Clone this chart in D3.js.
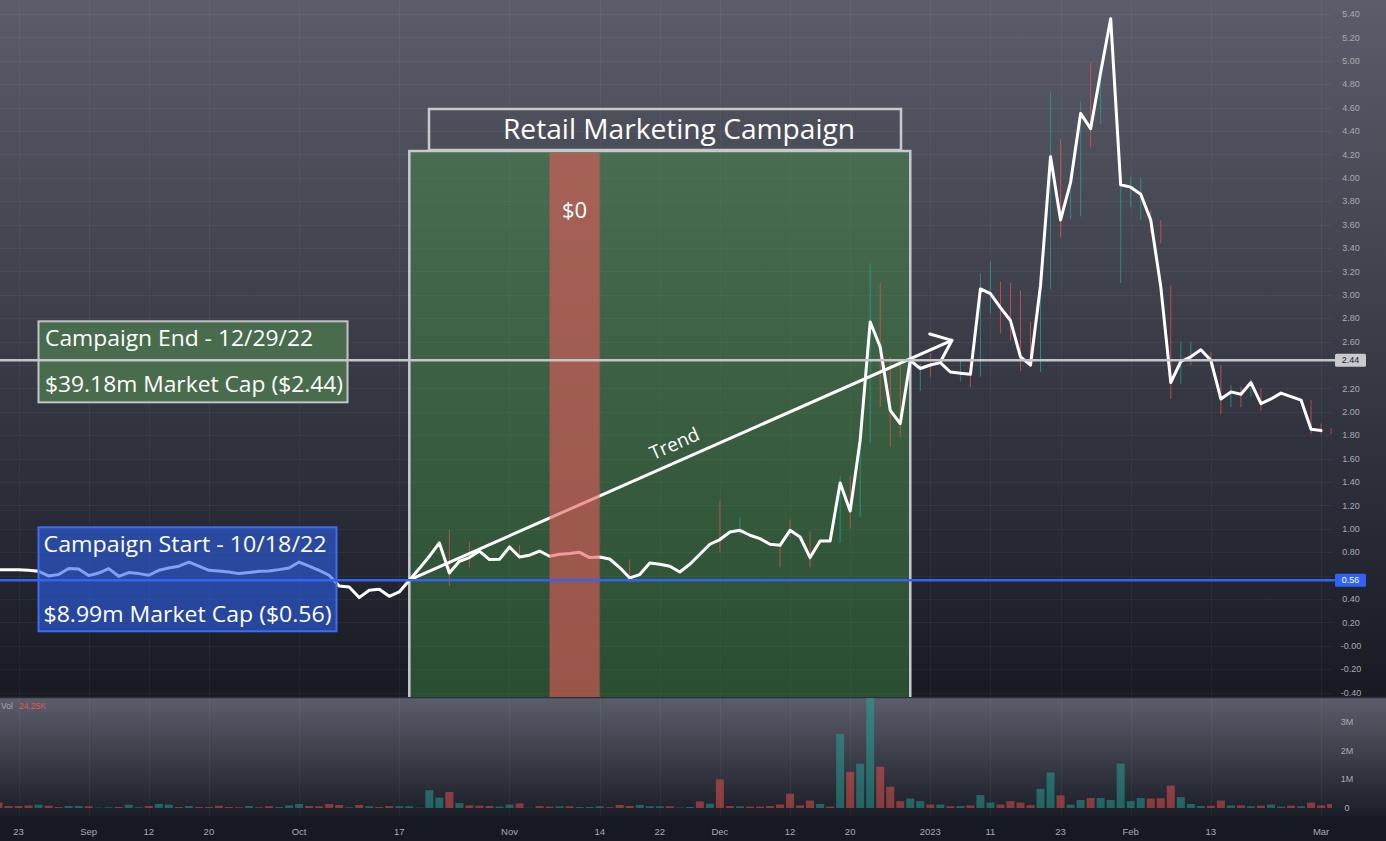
<!DOCTYPE html>
<html><head><meta charset="utf-8">
<script src="https://cdn.jsdelivr.net/npm/d3@7"></script>
<style>html,body{margin:0;padding:0;background:#151821;overflow:hidden}</style>
</head><body>
<svg id="c" width="1386" height="841"></svg>
<script>
// ---------------- DATA ----------------
// daily closes, 2022-08-19 .. 2023-03-01 (trading days)
const closeValues = [
 0.65,
 0.65,0.65,0.645,0.637,0.597,0.609,0.66,0.657,0.60,0.622,
 0.66,0.594,0.626,0.617,0.603,0.645,0.665,0.68,0.716,0.68,
 0.645,0.64,0.631,0.617,0.626,0.637,0.64,0.651,0.665,0.716,
 0.68,0.645,0.603,0.511,0.503,0.412,0.475,0.483,0.423,0.46,
 0.56,0.66,0.765,0.879,0.622,0.722,0.754,0.81,0.737,0.739,
 0.845,0.759,0.774,0.81,0.765,0.782,0.788,0.799,0.754,0.759,
 0.742,0.669,0.58,0.609,0.708,0.697,0.68,0.631,0.697,0.782,
 0.868,0.908,0.973,0.987,0.945,0.916,0.868,0.859,0.987,0.93,
 0.754,0.896,0.896,1.392,1.152,1.757,2.768,2.554,2.013,1.899,
 2.44,2.37,2.40,2.42,2.34,2.33,2.32,3.05,3.01,2.89,
 2.78,2.47,2.40,3.08,4.18,3.64,3.96,4.55,4.42,4.90,
 5.36,3.94,3.92,3.86,3.64,3.07,2.25,2.43,2.47,2.53,
 2.44,2.11,2.17,2.15,2.25,2.07,2.11,2.16,2.13,2.10,
 1.85,1.84
];
// daily volume in millions, 2022-08-19 .. 2023-03-02
const volumeValues = [
 0.19,
 0.07,0.07,0.09,0.115,0.08,0.035,0.07,0.07,0.06,0.015,
 0.025,0.035,0.115,0.025,0.07,0.14,0.115,0.035,0.07,0.035,
 0.035,0.08,0.035,0.025,0.07,0.025,0.06,0.035,0.09,0.14,
 0.07,0.06,0.14,0.105,0.025,0.105,0.06,0.035,0.07,0.06,
 0.06,0.015,0.62,0.36,0.56,0.17,0.09,0.08,0.07,0.05,
 0.12,0.16,0.01,0.07,0.05,0.06,0.06,0.035,0.035,0.06,
 0.025,0.105,0.07,0.105,0.06,0.06,0.06,0.015,0.035,0.23,
 0.15,1.0,0.07,0.06,0.05,0.05,0.07,0.12,0.5,0.09,
 0.26,0.14,0.05,2.58,1.26,1.55,3.9,1.44,0.74,0.24,
 0.33,0.24,0.12,0.12,0.06,0.07,0.09,0.45,0.19,0.12,
 0.24,0.19,0.1,0.67,1.24,0.44,0.12,0.28,0.35,0.35,
 0.28,1.55,0.24,0.35,0.33,0.34,0.78,0.38,0.14,0.07,
 0.08,0.26,0.09,0.09,0.06,0.08,0.12,0.05,0.08,0.06,
 0.19,0.09,0.14
];
// bar direction (u = up / d = down) for each day
const volumeDirections = ("d" +
 "dddudduudu" + "uduuduudud" + "ddddudduuu" + "ddddududdu" +
 "uuuududddu" + "ududduduuu" + "ddduuuduud" + "uddudddddd" +
 "dududuuddd" + "uudududuud" + "ddduuduudu" + "uuuuddduuu" +
 "ddududuudu" + "ddd").split("");
// visible high/low wicks
const wickDays = ["2022-10-24","2022-10-26","2022-11-02","2022-11-17","2022-12-01","2022-12-05","2022-12-09","2022-12-12","2022-12-14","2022-12-19","2022-12-20","2022-12-21","2022-12-22","2022-12-23","2022-12-27","2022-12-28","2022-12-30","2023-01-03","2023-01-06","2023-01-09","2023-01-10","2023-01-11","2023-01-12","2023-01-13","2023-01-17","2023-01-18","2023-01-19","2023-01-20","2023-01-23","2023-01-24","2023-01-25","2023-01-26","2023-01-27","2023-01-31","2023-02-01","2023-02-02","2023-02-03","2023-02-06","2023-02-07","2023-02-08","2023-02-09","2023-02-13","2023-02-14","2023-02-15","2023-02-16","2023-02-17","2023-02-21","2023-02-28","2023-03-01","2023-03-02"];
const wickHighs = [0.99,0.89,0.86,0.74,1.24,1.10,0.89,1.08,0.98,1.45,1.45,1.80,3.27,3.10,2.47,2.41,2.41,2.50,2.44,2.38,3.18,3.29,3.11,3.10,3.04,2.77,3.08,4.73,4.33,3.99,4.65,4.99,4.90,3.94,4.01,4.00,3.72,3.64,3.08,2.60,2.60,2.51,2.40,2.23,2.21,2.28,2.20,2.10,1.90,1.86];
const wickLows  = [0.51,0.67,0.74,0.55,0.80,0.95,0.67,0.93,0.67,0.88,1.00,1.10,1.73,2.04,1.70,1.78,2.18,2.30,2.26,2.21,2.30,2.84,2.67,2.61,2.35,2.38,2.34,3.05,3.49,3.65,3.67,4.26,4.46,3.10,3.75,3.64,3.53,3.44,2.11,2.24,2.40,2.38,1.98,2.04,2.04,2.13,2.01,1.81,1.81,1.81];

const priceTickLabels = ["5.40","5.20","5.00","4.80","4.60","4.40","4.20","4.00","3.80","3.60","3.40","3.20","3.00","2.80","2.60","2.40","2.20","2.00","1.80","1.60","1.40","1.20","1.00","0.80","0.60","0.40","0.20","-0.00","-0.20","-0.40"];
const volumeTickLabels = ["3M","2M","1M","0"];
const volumeTickValues = [3,2,1,0];
const dateTickDays = ["2022-08-23","2022-09-01","2022-09-12","2022-09-20","2022-10-03","2022-10-17","2022-11-01","2022-11-14","2022-11-22","2022-12-01","2022-12-12","2022-12-20","2023-01-03","2023-01-11","2023-01-23","2023-02-01","2023-02-13","2023-03-01"];
const dateTickLabels = ["23","Sep","12","20","Oct","17","Nov","14","22","Dec","12","20","2023","11","23","Feb","13","Mar"];
const holidays = ["2022-09-05","2022-11-24","2022-12-26","2023-01-02","2023-01-16","2023-02-20"];

const campaignStartDay = "2022-10-18", campaignEndDay = "2022-12-29";
const zeroSpendStartDay = "2022-11-07", zeroSpendEndDay = "2022-11-14";
const startPrice = 0.56, endPrice = 2.44;
const trendFromDay = "2022-10-18", trendFromPrice = 0.57;
const trendToDay = "2023-01-05", trendToPrice = 2.61;

// ---------------- SCALES ----------------
const fmt = d3.timeFormat("%Y-%m-%d");
const days = d3.timeDay.range(new Date(2022,7,19), new Date(2023,2,3))
  .filter(d => d.getDay() % 6 !== 0).map(fmt).filter(s => !holidays.includes(s));

const W = 1386, H = 841;
const plotRight = 1332, mainBottom = 697, volTop = 698, volBottom = 816;
const x = d3.scalePoint().domain(days).range([-1.5, 1331.1]);
const yP = d3.scaleLinear().domain([-0.40, 5.40]).range([692.6, 14]);
const yV = d3.scaleLinear().domain([0, 3]).range([808, 722]);

const svg = d3.select("#c");
const defs = svg.append("defs");
function grad(id, c1, c2) {
  const g = defs.append("linearGradient").attr("id", id).attr("x1",0).attr("y1",0).attr("x2",0).attr("y2",1);
  g.append("stop").attr("offset","0%").attr("stop-color",c1);
  g.append("stop").attr("offset","100%").attr("stop-color",c2);
}
grad("bgMain", "#5b5e6a", "#171a23");
grad("bgVol", "#5b5e6a", "#1b1e27");
defs.append("clipPath").attr("id","clipMain").append("rect").attr("x",0).attr("y",0).attr("width",plotRight).attr("height",mainBottom);
defs.append("clipPath").attr("id","clipVol").append("rect").attr("x",0).attr("y",volTop).attr("width",plotRight).attr("height",volBottom-volTop);

// backgrounds
svg.append("rect").attr("x",0).attr("y",0).attr("width",W).attr("height",mainBottom).attr("fill","url(#bgMain)");
svg.append("rect").attr("x",0).attr("y",volTop).attr("width",W).attr("height",volBottom-volTop).attr("fill","url(#bgVol)");
svg.append("rect").attr("x",0).attr("y",volBottom).attr("width",W).attr("height",H-volBottom).attr("fill","#161922");
svg.append("line").attr("x1",0).attr("x2",W).attr("y1",mainBottom+0.5).attr("y2",mainBottom+0.5).attr("stroke","#2a2e39").attr("stroke-width",1.5);

// grid
const grid = svg.append("g").attr("stroke","rgba(255,255,255,0.045)").attr("stroke-width",1);
priceTickLabels.forEach(l => grid.append("line").attr("x1",0).attr("x2",plotRight).attr("y1",Math.round(yP(+l))+0.5).attr("y2",Math.round(yP(+l))+0.5));
dateTickDays.forEach(d => {
  grid.append("line").attr("x1",Math.round(x(d))+0.5).attr("x2",Math.round(x(d))+0.5).attr("y1",0).attr("y2",mainBottom);
  grid.append("line").attr("x1",Math.round(x(d))+0.5).attr("x2",Math.round(x(d))+0.5).attr("y1",volTop).attr("y2",volBottom);
});

const main = svg.append("g").attr("clip-path","url(#clipMain)");
const FONT = "'Open Sans','Noto Sans',sans-serif";

// campaign box (green)
const gx0 = x(campaignStartDay), gx1 = x(campaignEndDay);
main.append("rect").attr("x",gx0).attr("y",151).attr("width",gx1-gx0).attr("height",mainBottom-151+4)
  .attr("fill","rgba(70,150,68,0.42)").attr("stroke","#c8c9cc").attr("stroke-width",2.5);

// wicks
const wickG = main.append("g");
wickDays.forEach((d,i) => {
  const k = days.indexOf(d);
  wickG.append("line").attr("x1",x(d)).attr("x2",x(d)).attr("y1",yP(wickHighs[i])).attr("y2",yP(wickLows[i]))
    .attr("stroke", volumeDirections[k] === "u" ? "rgba(38,166,154,0.7)" : "rgba(239,83,80,0.7)").attr("stroke-width",1);
});

// price line
const priceData = closeValues.map((c,i) => ({day: days[i], close: c}));
main.append("path").datum(priceData)
  .attr("d", d3.line().x(d => x(d.day)).y(d => yP(d.close)))
  .attr("fill","none").attr("stroke","#ffffff").attr("stroke-width",3).attr("stroke-linejoin","round").attr("stroke-linecap","round");

// trend arrow
const tx0 = x(trendFromDay)+2, ty0 = yP(trendFromPrice), tx1 = x(trendToDay)+1.5, ty1 = yP(trendToPrice);
const ang = Math.atan2(ty1-ty0, tx1-tx0);
main.append("line").attr("x1",tx0).attr("y1",ty0).attr("x2",tx1).attr("y2",ty1).attr("stroke","#fff").attr("stroke-width",3).attr("stroke-linecap","round");
[40,-38].forEach(a => {
  const r = ang + Math.PI + a*Math.PI/180;
  main.append("line").attr("x1",tx1).attr("y1",ty1).attr("x2",tx1+23*Math.cos(r)).attr("y2",ty1+23*Math.sin(r))
    .attr("stroke","#fff").attr("stroke-width",3).attr("stroke-linecap","round");
});
const tt = 0.5, toff = 11;
const tcx = tx0 + (tx1-tx0)*tt + toff*Math.sin(ang), tcy = ty0 + (ty1-ty0)*tt - toff*Math.cos(ang);
main.append("text").attr("x",tcx).attr("y",tcy).attr("transform",`rotate(${ang*180/Math.PI},${tcx},${tcy})`)
  .attr("text-anchor","middle").attr("font-family",FONT).attr("font-size",19).attr("fill","#fff").text("Trend");

// zero spend stripe
const zx0 = x(zeroSpendStartDay), zx1 = x(zeroSpendEndDay);
main.append("rect").attr("x",zx0).attr("y",153).attr("width",zx1-zx0).attr("height",mainBottom-153)
  .attr("fill","rgba(230,90,90,0.6)");
main.append("text").attr("x",(zx0+zx1)/2).attr("y",218).attr("text-anchor","middle").attr("font-family",FONT)
  .attr("font-size",22).attr("fill","#fff").text("$0");

// title box
main.append("rect").attr("x",429).attr("y",109).attr("width",472).attr("height",41)
  .attr("fill","rgba(62,65,76,0.15)").attr("stroke","#c8c9cc").attr("stroke-width",2.5);
main.append("text").attr("x",503).attr("y",138.5).attr("font-family",FONT).attr("font-size",28).attr("fill","#fff")
  .attr("textLength",352).attr("lengthAdjust","spacingAndGlyphs").text("Retail Marketing Campaign");

// campaign end box
const yEnd = yP(endPrice);
main.append("rect").attr("x",38.5).attr("y",yEnd-39).attr("width",309).attr("height",81)
  .attr("fill","rgba(74,110,78,0.96)").attr("stroke","#c3c4c7").attr("stroke-width",2);
main.append("text").attr("x",45).attr("y",yEnd-14).attr("font-family",FONT).attr("font-size",21).attr("fill","#fff")
  .attr("textLength",268).attr("lengthAdjust","spacingAndGlyphs").text("Campaign End - 12/29/22");
main.append("text").attr("x",45).attr("y",yEnd+31.5).attr("font-family",FONT).attr("font-size",21).attr("fill","#fff")
  .attr("textLength",298).attr("lengthAdjust","spacingAndGlyphs").text("$39.18m Market Cap ($2.44)");

// campaign start box
const yStart = yP(startPrice);
main.append("rect").attr("x",38.5).attr("y",yStart-53).attr("width",298).attr("height",104)
  .attr("fill","rgba(45,95,235,0.6)").attr("stroke","#3f6df0").attr("stroke-width",2);
main.append("text").attr("x",43.5).attr("y",yStart-28).attr("font-family",FONT).attr("font-size",21).attr("fill","#fff")
  .attr("textLength",283).attr("lengthAdjust","spacingAndGlyphs").text("Campaign Start - 10/18/22");
main.append("text").attr("x",43.5).attr("y",yStart+41.5).attr("font-family",FONT).attr("font-size",21).attr("fill","#fff")
  .attr("textLength",288).attr("lengthAdjust","spacingAndGlyphs").text("$8.99m Market Cap ($0.56)");

// horizontal lines
svg.append("line").attr("x1",0).attr("x2",1336).attr("y1",yEnd).attr("y2",yEnd).attr("stroke","#c4c5c9").attr("stroke-width",2.5);
svg.append("line").attr("x1",0).attr("x2",1336).attr("y1",yStart).attr("y2",yStart).attr("stroke","#3563f0").attr("stroke-width",2.5);

// price axis labels (ticks hidden behind the value boxes are skipped)
const axisFont = "'Liberation Sans','DejaVu Sans',sans-serif";
const pa = svg.append("g").attr("font-family",axisFont).attr("font-size",9).attr("fill","#a7aab3").attr("text-anchor","middle");
priceTickLabels.filter(l => Math.abs(yP(+l) - yEnd) > 11 && Math.abs(yP(+l) - yStart) > 11)
  .forEach(l => pa.append("text").attr("x",1351).attr("y",yP(+l)).attr("dy","0.35em").text(l));
// value label boxes
svg.append("rect").attr("x",1335).attr("y",yEnd-6.5).attr("width",31).attr("height",13).attr("rx",1.5).attr("fill","#c9cacd");
svg.append("text").attr("x",1350.5).attr("y",yEnd).attr("dy","0.35em").attr("text-anchor","middle").attr("font-family",axisFont)
  .attr("font-size",9).attr("fill","#1b1e27").text(endPrice.toFixed(2));
svg.append("rect").attr("x",1335).attr("y",yStart-6.5).attr("width",31).attr("height",13).attr("rx",1.5).attr("fill","#2f62f5");
svg.append("text").attr("x",1350.5).attr("y",yStart).attr("dy","0.35em").attr("text-anchor","middle").attr("font-family",axisFont)
  .attr("font-size",9).attr("fill","#ffffff").text(startPrice.toFixed(2));

// volume
const vol = svg.append("g").attr("clip-path","url(#clipVol)");
vol.selectAll("rect").data(volumeValues).join("rect")
  .attr("x",(v,i) => x(days[i]) - 4).attr("width",8)
  .attr("y",v => yV(v)).attr("height",v => yV(0) - yV(v))
  .attr("fill",(v,i) => volumeDirections[i] === "u" ? "rgba(38,166,154,0.5)" : "rgba(239,83,80,0.5)");
const va = svg.append("g").attr("font-family",axisFont).attr("font-size",9).attr("fill","#a7aab3").attr("text-anchor","middle");
volumeTickLabels.forEach((l,i) => va.append("text").attr("x",1347).attr("y",yV(volumeTickValues[i])).attr("dy","0.35em").text(l));
svg.append("text").attr("x",1).attr("y",709).attr("font-family",axisFont).attr("font-size",8.5).attr("fill","#a7aab3").text("Vol");
svg.append("text").attr("x",19).attr("y",709).attr("font-family",axisFont).attr("font-size",8.5).attr("fill","#e0554f").text("24.25K");

// date axis
const da = svg.append("g").attr("font-family",axisFont).attr("font-size",9.5).attr("fill","#a7aab3").attr("text-anchor","middle");
dateTickDays.forEach((d,i) => da.append("text").attr("x",x(d)).attr("y",832).attr("dy","0.35em").text(dateTickLabels[i]));
</script>
</body></html>
